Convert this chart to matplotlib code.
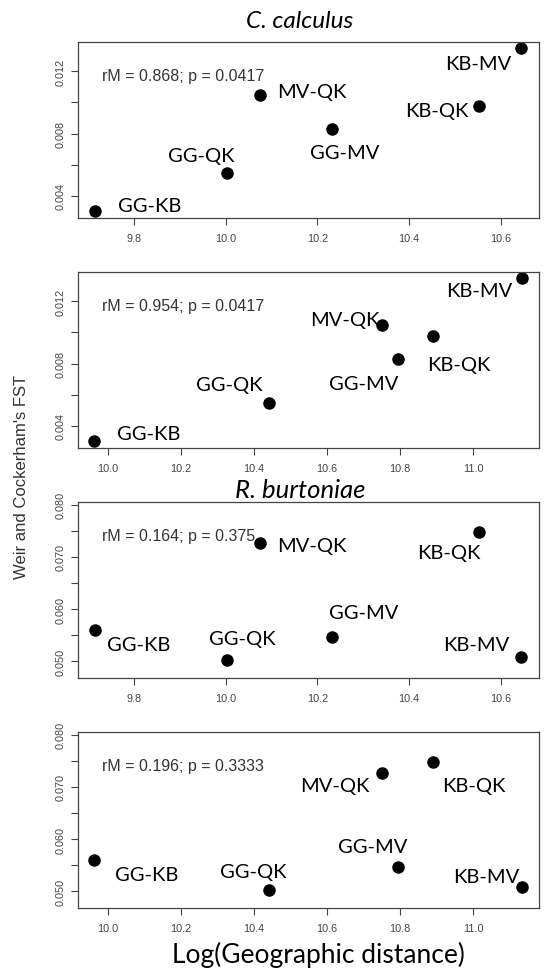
import matplotlib
matplotlib.use('Agg')
import matplotlib.pyplot as plt

# population pairs
pairs = ['GG-KB', 'GG-QK', 'MV-QK', 'GG-MV', 'KB-QK', 'KB-MV']

# two geographic distance measures (log scale)
log_dist_a = [9.716, 10.003, 10.074, 10.232, 10.552, 10.644]
log_dist_b = [9.963, 10.442, 10.751, 10.796, 10.890, 11.134]

# Weir and Cockerham's FST per species
fst_cc = [0.00304, 0.00547, 0.01046, 0.00826, 0.00976, 0.01347]
fst_rb = [0.0559, 0.0503, 0.0726, 0.0546, 0.0747, 0.0508]

stats = ['rM = 0.868; p = 0.0417', 'rM = 0.954; p = 0.0417',
         'rM = 0.164; p = 0.375', 'rM = 0.196; p = 0.3333']

# label offsets from each point, in pixels (dx right, dy down)
label_offsets = [
    [(54, -5), (-26, -18), (52, -4), (13, 23), (-42, 4), (-43, 15)],
    [(54, -7), (-40, -19), (-37, -6), (-35, 24), (26, 28), (-43, 12)],
    [(43, 14), (15, -21), (52, 2), (32, -25), (-30, 20), (-45, -13)],
    [(52, 14), (-16, -18), (-47, 12), (-26, -21), (41, 23), (-36, -11)],
]

W, H = 544, 970
fig = plt.figure(figsize=(W / 100, H / 100), dpi=100)

panels = [
    (log_dist_a, fst_cc, (9.678, 10.683), (0.00259, 0.01386), [9.8, 10.0, 10.2, 10.4, 10.6]),
    (log_dist_b, fst_cc, (9.918, 11.181), (0.00259, 0.01386), [10.0, 10.2, 10.4, 10.6, 10.8, 11.0]),
    (log_dist_a, fst_rb, (9.678, 10.683), (0.0468, 0.0805), [9.8, 10.0, 10.2, 10.4, 10.6]),
    (log_dist_b, fst_rb, (9.918, 11.181), (0.0468, 0.0805), [10.0, 10.2, 10.4, 10.6, 10.8, 11.0]),
]

left, right = 78, 539
for i, (xs, ys, xlim, ylim, xt) in enumerate(panels):
    top = 43 + 230 * i
    bottom = top + 176
    ax = fig.add_axes([left / W, 1 - bottom / H, (right - left) / W, 176 / H])
    ax.plot(xs, ys, 'o', color='black', markersize=8)
    ax.set_xlim(xlim)
    ax.set_ylim(ylim)
    ax.set_xticks(xt)
    ax.set_xticklabels([f'{v:.1f}' for v in xt])
    if i < 2:
        yt = [0.004, 0.006, 0.008, 0.010, 0.012]
        ax.set_yticks(yt)
        ax.set_yticklabels(['0.004', '', '0.008', '', '0.012'])
    else:
        yt = [0.050, 0.055, 0.060, 0.065, 0.070, 0.075, 0.080]
        ax.set_yticks(yt)
        ax.set_yticklabels(['0.050', '', '0.060', '', '0.070', '', '0.080'])
    for lab in ax.get_yticklabels():
        lab.set_rotation(90)
        lab.set_va('center')
    ax.tick_params(direction='out', length=5, width=0.8, colors='#444444',
                   labelsize=7.8, pad=6)
    ax.tick_params(axis='y', pad=4)
    for s in ax.spines.values():
        s.set_color('#444444')
        s.set_linewidth(0.9)
    for lab in ax.get_xticklabels() + ax.get_yticklabels():
        lab.set_family('Liberation Sans')
    for name, x, y, (dx, dy) in zip(pairs, xs, ys, label_offsets[i]):
        ax.annotate(name, (x, y), xytext=(dx, -dy), textcoords='offset pixels',
                    ha='center', va='center', fontsize=14.5, family='Lato',
                    color='black')
    ax.text(0.052, 0.807, stats[i], transform=ax.transAxes, ha='left', va='center',
            fontsize=11.5, family='Liberation Sans', color='#333333')

fig.text(300 / W, 1 - 28 / H, 'C. calculus', ha='center', va='baseline',
         fontsize=17.5, family='Lato', style='italic')
fig.text(300 / W, 1 - 498 / H, 'R. burtoniae', ha='center', va='baseline',
         fontsize=18.5, family='Lato', style='italic')
fig.text(318 / W, 1 - 963 / H, 'Log(Geographic distance)', ha='center', va='baseline',
         fontsize=19, family='Lato')
fig.text(22 / W, 1 - 477 / H, "Weir and Cockerham's FST", ha='center', va='center',
         rotation=90, fontsize=12, family='Liberation Sans', color='#333333')

fig.savefig('out.png', dpi=100)
